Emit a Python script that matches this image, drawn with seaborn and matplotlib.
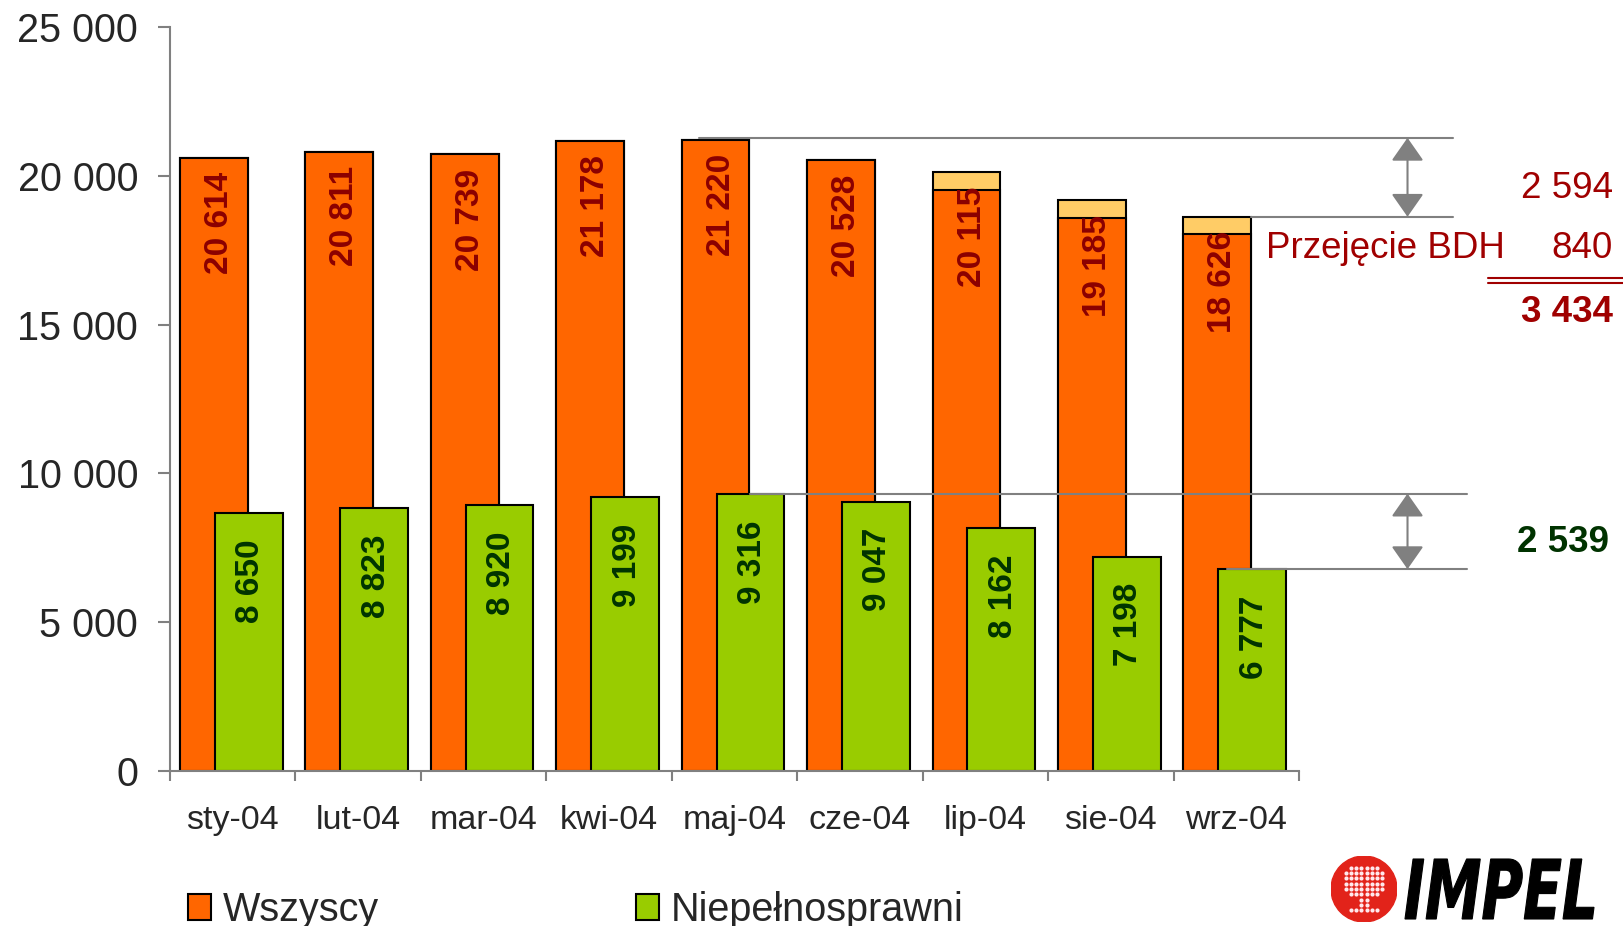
import numpy as np
import pandas as pd
import matplotlib
matplotlib.use('Agg')
import matplotlib.pyplot as plt
import seaborn as sns
from matplotlib.patches import Patch, Circle, PathPatch
from matplotlib.textpath import TextPath
from matplotlib.font_manager import FontProperties
from matplotlib.transforms import Affine2D
from matplotlib.ticker import FuncFormatter

# data
months = ['sty-04', 'lut-04', 'mar-04', 'kwi-04', 'maj-04', 'cze-04', 'lip-04', 'sie-04', 'wrz-04']
wszyscy = [20614, 20811, 20739, 21178, 21220, 20528, 20115, 19185, 18626]
niepelnosprawni = [8650, 8823, 8920, 9199, 9316, 9047, 8162, 7198, 6777]
bdh_segment = [0, 0, 0, 0, 0, 0, 580, 590, 575]   # yellow caps (estimated)
przejecie_bdh = 840

ORANGE = '#FF6600'
GREEN = '#99CC00'
YELLOW = '#FFCC66'
MAROON = '#8B0000'
RED_TXT = '#A00000'
DKGREEN = '#003300'
GRAY = '#808080'

sns.set_theme(style='white')
plt.rcParams['font.family'] = ['Liberation Sans', 'DejaVu Sans']

W, H = 1623, 926
fig = plt.figure(figsize=(W / 100, H / 100), dpi=100)
fig.patch.set_facecolor('white')
ax = fig.add_axes([170 / W, 1 - 770.7 / H, 1129 / W, 743.5 / H])


def fmt(v):
    return f"{int(v):,}".replace(',', ' ')


df = pd.DataFrame({'month': months, 'wszyscy': wszyscy,
                   'niep': niepelnosprawni, 'bdh': bdh_segment})
df['pos'] = np.arange(len(df))
df['bez_bdh'] = df['wszyscy'] - df['bdh']
df['x_o'] = df['pos'] - 0.151
df['x_g'] = df['pos'] + 0.127

bar_kw = dict(native_scale=True, width=0.54, edgecolor='black', linewidth=1.5,
              saturation=1, errorbar=None, ax=ax)
sns.barplot(data=df, x='x_o', y='wszyscy', color=YELLOW, **bar_kw)
sns.barplot(data=df, x='x_o', y='bez_bdh', color=ORANGE, **bar_kw)
sns.barplot(data=df, x='x_g', y='niep', color=GREEN, **bar_kw)

# value labels inside bars
for _, r in df.iterrows():
    ax.annotate(fmt(r.wszyscy), xy=(r.x_o, r.wszyscy), xytext=(4, -10.5),
                textcoords='offset points', rotation=90, ha='center', va='top',
                fontsize=24, fontweight='bold', color=MAROON)
    ax.annotate(fmt(r.niep), xy=(r.x_g, r.niep), xytext=(1.5, -19),
                textcoords='offset points', rotation=90, ha='center', va='top',
                fontsize=24, fontweight='bold', color=DKGREEN)

# axes styling
ax.set_xlim(-0.5, len(months) - 0.5)
ax.set_ylim(0, 25000)
ax.set_xlabel('')
ax.set_ylabel('')
ax.set_xticks(df['pos'])
ax.set_xticklabels(months)
ax.set_xticks(np.arange(-0.5, len(months), 1), minor=True)
ax.set_yticks(np.arange(0, 25001, 5000))
ax.yaxis.set_major_formatter(FuncFormatter(lambda v, p: fmt(v)))
ax.tick_params(axis='x', which='major', bottom=True, length=0, pad=25, labelsize=24.5)
ax.tick_params(axis='x', which='minor', bottom=True, length=7.5, width=1.5, color=GRAY)
ax.tick_params(axis='y', left=True, length=9, width=1.5, color=GRAY, pad=14, labelsize=28.5)
for s in ['top', 'right']:
    ax.spines[s].set_visible(False)
for s in ['left', 'bottom']:
    ax.spines[s].set_color(GRAY)
    ax.spines[s].set_linewidth(1.5)
ax.grid(False)
ax.set_facecolor('none')

# difference markers
top_w = max(wszyscy)
i_top = int(np.argmax(wszyscy))
last_w = wszyscy[-1]
top_n = max(niepelnosprawni)
i_topn = int(np.argmax(niepelnosprawni))
last_n = niepelnosprawni[-1]
x_arrow = 9.365
line_kw = dict(color=GRAY, lw=1.5, clip_on=False, zorder=3)
ax.plot([df.x_o[i_top] - 0.13, 9.73], [top_w + 60, top_w + 60], **line_kw)
ax.plot([df.x_o.iloc[-1] + 0.27, 9.73], [last_w, last_w], **line_kw)
ax.plot([df.x_g[i_topn], 9.84], [top_n, top_n], **line_kw)
ax.plot([df.x_g.iloc[-1] - 0.2, 9.84], [last_n, last_n], **line_kw)
arrow_kw = dict(arrowstyle='<|-|>,head_length=0.4,head_width=0.28', color=GRAY, lw=1.5,
                mutation_scale=36, shrinkA=0, shrinkB=0)
ax.annotate('', xy=(x_arrow, last_w), xytext=(x_arrow, top_w + 60),
            arrowprops=arrow_kw, annotation_clip=False)
ax.annotate('', xy=(x_arrow, last_n), xytext=(x_arrow, top_n),
            arrowprops=arrow_kw, annotation_clip=False)

# side texts
diff_w = top_w - last_w
diff_n = top_n - last_n
fig.text(1613 / W, 1 - 188 / H, fmt(diff_w), ha='right', va='center', fontsize=26.5, color=RED_TXT)
fig.text(1266 / W, 1 - 248 / H, 'Przejęcie BDH', ha='left', va='center', fontsize=26.5, color=RED_TXT)
fig.text(1613 / W, 1 - 248 / H, fmt(przejecie_bdh), ha='right', va='center', fontsize=26.5, color=RED_TXT)
for yy in (277.5, 282.5):
    fig.add_artist(plt.Line2D([1488 / W, 1.0], [1 - yy / H, 1 - yy / H], color=RED_TXT, lw=1.5))
fig.text(1613 / W, 1 - 312 / H, fmt(diff_w + przejecie_bdh), ha='right', va='center',
         fontsize=26.5, fontweight='bold', color=RED_TXT)
fig.text(1609 / W, 1 - 543 / H, fmt(diff_n), ha='right', va='center',
         fontsize=26.5, fontweight='bold', color=DKGREEN)

# legend
handles = [Patch(facecolor=ORANGE, edgecolor='black', lw=1.5, label='Wszyscy'),
           Patch(facecolor=GREEN, edgecolor='black', lw=1.5, label='Niepełnosprawni')]
fig.legend(handles=handles, loc='center left', bbox_to_anchor=(188 / W, 1 - 910 / H),
           ncol=2, frameon=False, fontsize=28.5, handlelength=0.58, handleheight=0.6,
           handletextpad=0.3, columnspacing=6.5, borderpad=0, borderaxespad=0)

# IMPEL logo
lax = fig.add_axes([1331 / W, 4 / H, 66 / W, 66 / H])
lax.set_xlim(-1, 1)
lax.set_ylim(-1, 1)
lax.set_aspect('equal')
lax.axis('off')
lax.add_patch(Circle((0, 0), 1, color='#E2231A'))
gx, gy = np.meshgrid(np.arange(-0.72, 0.73, 0.16), np.arange(-0.8, 0.81, 0.16))
gx, gy = gx.ravel(), gy.ravel()
crown = ((gx / 0.72) ** 2 + ((gy - 0.22) / 0.55) ** 2) <= 1
trunk = (np.abs(gx) < 0.1) & (gy > -0.5) & (gy < -0.3)
roots = (np.abs(gx) < 0.45) & (np.abs(gy + 0.64) < 0.05)
keep = crown | trunk | roots
lax.scatter(gx[keep], gy[keep], s=9, color='#FFE8EC', linewidths=0)

prop = FontProperties(family='DejaVu Sans', weight='bold', style='italic')
tp = TextPath((0, 0), 'IMPEL', size=1, prop=prop)
bb = tp.get_extents()
tr = (Affine2D().translate(-bb.x0, -bb.y0)
      .scale((1594 - 1405) / bb.width / W, (67 - 7) / bb.height / H)
      .translate(1405 / W, 7 / H) + fig.transFigure)
fig.add_artist(PathPatch(tp, transform=tr, facecolor='black', edgecolor='black', lw=0.8))

fig.savefig('out.png', dpi=100, facecolor='white')
